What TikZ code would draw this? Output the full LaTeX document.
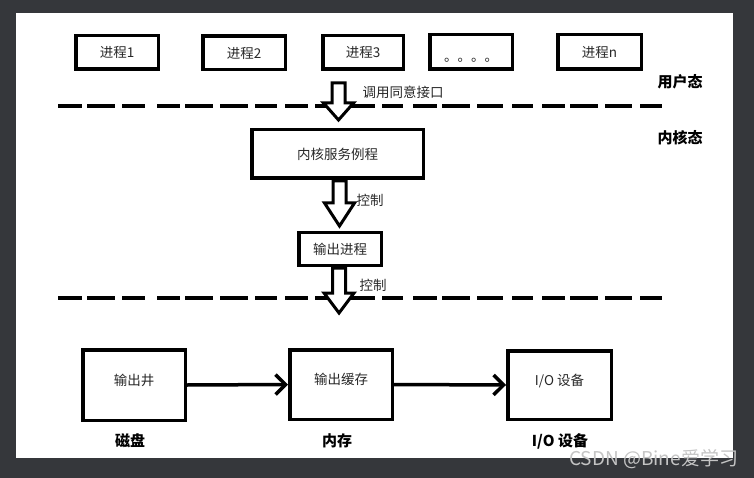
\documentclass[tikz,border=0pt]{standalone}
\usepackage{fontspec}
\setmainfont{Noto Sans CJK SC}
\usetikzlibrary{arrows.meta}
\definecolor{frame}{RGB}{53,55,59}
\definecolor{txt}{RGB}{40,40,40}
\definecolor{wm}{RGB}{196,196,196}
\tikzset{
  box/.style={draw=black, line width=3.5pt, fill=white, inner sep=0pt, text=txt,
              font=\fontsize{13.5}{15}\selectfont},
  lab/.style={text=txt, inner sep=0pt, font=\fontsize{13.5}{15}\selectfont},
  blab/.style={text=black, inner sep=0pt, font=\fontsize{15}{17}\selectfont\bfseries},
  dashseg/.style={line width=4.5pt, black},
  hollow/.style={draw=black, fill=white, line width=3pt, line join=miter},
  flow/.style={line width=3.5pt, black, -{Straight Barb[length=10pt,width=20pt,line width=3.5pt]}}
}
\newcommand{\hollowarrow}[4]{% x, ytop, yhead, ytip
  \filldraw[hollow] ({#1-6.5},#2) -- ({#1+6.5},#2) -- ({#1+6.5},#3) -- ({#1+15},#3)
    -- (#1,#4) -- ({#1-15},#3) -- ({#1-6.5},#3) -- cycle;}
\begin{document}
\begin{tikzpicture}[x=1pt,y=-1pt]
\fill[frame] (0,0) rectangle (754,478);
\fill[white] (16,13) rectangle (733,458);
\useasboundingbox (0,0) rectangle (754,478);

% dashed separators
\foreach \yy in {106,298}{
  \foreach \a/\b in {58/82,87/115,122/145,157/180,185/213,220/248,255/277,285/308,315/375,382/403,413/437,442/470,477/503,512/533,542/565,570/598,605/632,640/662}{
    \draw[dashseg] (\a,\yy) -- (\b,\yy);
  }
}

% user processes
\node[box, minimum width=82.5pt, minimum height=33.5pt] (p1) at (117,52.5) {进程1};
\node[box, minimum width=82.5pt, minimum height=33.5pt] (p2) at (244,53) {进程2};
\node[box, minimum width=80.5pt, minimum height=33.5pt] (p3) at (363,52.5) {进程3};
\node[box, minimum width=82.5pt, minimum height=34.5pt] (pd) at (471,52) {\smash{\raisebox{-10pt}{。。。。}}};
\node[box, minimum width=83.5pt, minimum height=34.5pt] (pn) at (599.5,52) {进程n};

% kernel
\node[box, minimum width=171.5pt, minimum height=48.5pt] (ks) at (337.5,154) {内核服务例程};
\node[box, minimum width=82.5pt, minimum height=32.5pt] (op) at (340,249) {输出进程};

% devices
\node[box, minimum width=102.5pt, minimum height=70.5pt] (well) at (134,385) {\smash{输出井}};
\node[box, minimum width=102.5pt, minimum height=69.5pt] (buf) at (341,384.5) {\smash{输出缓存}};
\node[box, minimum width=103.5pt, minimum height=68.5pt] (io) at (559.5,385) {\smash{I/O 设备}};

% hollow arrows
\hollowarrow{338.5}{83}{103}{120}
\hollowarrow{339.5}{181}{203}{226}
\hollowarrow{339}{268}{293}{313}

% flow arrows
\draw[flow] (well.east) -- (buf.west);
\draw[flow] (buf.east) -- (io.west);

% labels
\node[lab] (l1) at (403,92) {调用同意接口};
\node[lab] (l2) at (370,200) {控制};
\node[lab] (l3) at (373,285) {控制};
\node[blab] (u) at (680,82) {用户态};
\node[blab] (k) at (680,138) {内核态};
\node[blab] (d1) at (130,441) {磁盘};
\node[blab] (d2) at (337,441) {内存};
\node[blab] (d3) at (560,441) {I/O 设备};

% watermark
\node[anchor=west, inner sep=0pt, text=wm, font=\fontsize{19}{21}\selectfont] (wmk) at (569,459) {CSDN @Bine爱学习};
\end{tikzpicture}
\end{document}
